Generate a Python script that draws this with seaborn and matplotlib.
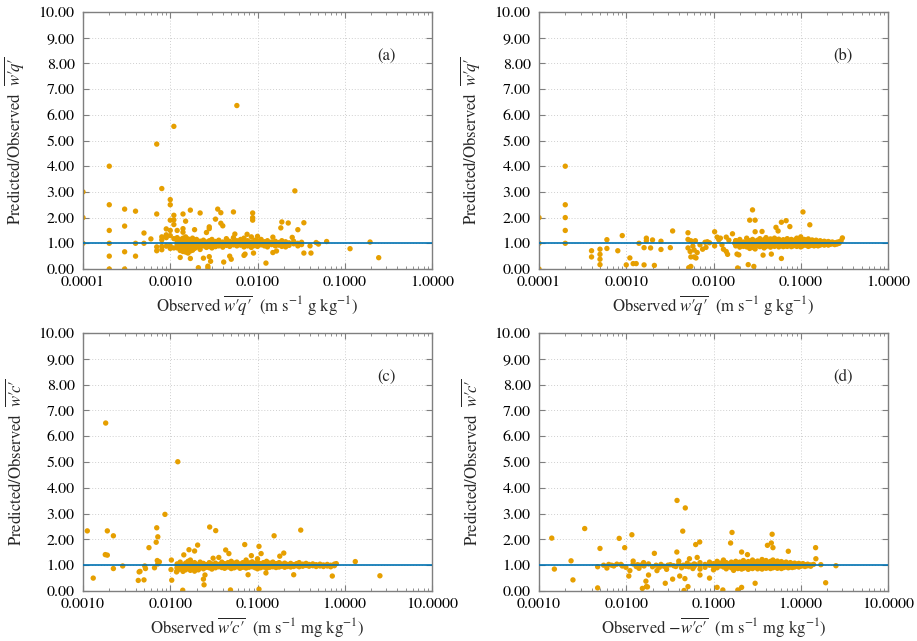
import numpy as np
import pandas as pd
import matplotlib
matplotlib.use("Agg")
import matplotlib.pyplot as plt
import seaborn as sns
from matplotlib.ticker import FuncFormatter, NullFormatter, LogLocator, MultipleLocator

# ---------------- data ----------------
# Panel (a): scattered points (x, ratio)
a_pts = [(0.0001,3.0),(0.0001,2.0),(0.0001,1.0),
 (0.0002,4.0),(0.0002,2.5),(0.0002,1.5),(0.0002,1.0),(0.0002,0.5),(0.0002,0.0),
 (0.0003,2.33),(0.0003,1.67),(0.0003,0.67),(0.0003,0.0),
 (0.0004,2.25),(0.0004,1.0),(0.0004,0.5),(0.0005,1.4),(0.0005,1.0),(0.0006,1.17),
 (0.0007,4.86),(0.0007,2.14),(0.0007,0.86),(0.0007,0.71),
 (0.0008,3.13),(0.0008,1.25),(0.0008,1.13),(0.0008,0.88),(0.0008,0.75),
 (0.0009,1.56),(0.0009,1.33),(0.0009,1.22),(0.0009,0.89),
 (0.001,2.7),(0.001,2.5),(0.001,1.9),(0.001,1.5),(0.001,1.3),(0.001,0.9),(0.001,0.8),
 (0.0011,5.55),(0.0011,2.09),(0.0011,1.91),(0.0011,1.73),(0.0011,1.18),(0.0011,0.82),
 (0.0012,1.5),(0.0013,0.45),(0.0014,2.14),(0.0014,1.57),(0.0014,1.43),(0.0015,1.86),
 (0.0017,2.29),(0.0017,0.41),(0.0019,1.53),(0.0021,0.05),(0.0022,2.18),(0.0024,0.42),
 (0.0026,1.42),(0.0027,0.11),(0.0027,0.04),(0.0028,1.64),(0.0028,1.57),(0.0029,0.3),
 (0.0028,0.48),(0.0033,1.94),(0.0035,2.33),(0.0038,2.19),(0.0038,1.78),(0.004,1.68),
 (0.0041,0.27),(0.0048,0.5),(0.0050,0.38),(0.0053,2.22),(0.0058,6.36),(0.0055,1.36),
 (0.0070,0.53),(0.0072,0.58),(0.0076,1.35),(0.0088,2.18),(0.0088,2.0),(0.0088,1.9),
 (0.0090,0.62),(0.0100,1.27),(0.0125,0.23),(0.015,1.24),(0.015,0.64),(0.0165,0.7),
 (0.0185,1.6),(0.019,1.83),(0.0225,1.79),(0.025,1.23),(0.0268,3.04),(0.029,1.53),
 (0.034,1.8),(0.034,0.62),(0.040,0.9),(0.041,0.62),(0.047,1.03),(0.05,0.97),
 (0.062,1.07),(0.115,0.79),(0.195,1.05),(0.245,0.44)]
# Panel (a): dense band near 1 (x column, ratios in that column)
a_band_x = [0.0012,0.0013,0.0014,0.0015,0.0016,0.0017,0.0018,0.0019,0.0020,0.0022,
 0.0024,0.0026,0.0028,0.0030,0.0033,0.0036,0.0040,0.0044,0.0048,0.0053,0.0058,0.0064,
 0.0070,0.0077,0.0085,0.0093,0.0100,0.011,0.012,0.013,0.0145,0.016,0.0175,0.019,
 0.021,0.023,0.026,0.029,0.032]
a_band_y = [[1.22,1.05,0.95,0.82],[1.15,1.0,0.88,0.72],[1.2,1.08,0.93,0.8,0.68],
 [1.25,1.1,1.0,0.9,0.78,0.66],[1.17,1.03,0.92,0.84,0.74,0.62],[1.12,0.98,0.87,0.76,0.7],
 [1.2,1.06,0.95,0.83,0.73],[1.1,0.99,0.9,0.8],[1.15,1.02,0.92,0.85],[1.08,0.96,0.86,0.76],
 [1.12,1.0,0.9],[1.05,0.94,0.84],[1.1,0.98,0.88],[1.15,1.03,0.93,0.82],[1.07,0.96,0.87],
 [1.12,1.0,0.9],[1.05,0.95,0.85],[1.18,1.02,0.92],[1.08,0.98,0.88],[1.22,1.04,0.94],
 [1.1,1.0,0.9],[1.15,1.03,0.93],[1.2,1.06,0.96,0.86],[1.1,1.0,0.9],[1.25,1.05,0.95,0.84],
 [1.12,1.0,0.91],[1.08,0.97,0.88],[1.15,1.03,0.94],[1.06,0.98,0.9],[1.1,1.0,0.86],
 [1.05,0.95],[1.08,0.99,0.9],[1.03,0.93],[1.1,1.0,0.88],[1.06,0.96,0.86],[1.02,0.92],
 [1.08,0.98],[1.0,0.9],[1.04,0.95]]

# Panel (b)
b_pts = [(0.0001,2.0),(0.0001,1.0),(0.0001,0.0),
 (0.0002,4.0),(0.0002,2.5),(0.0002,2.0),(0.0002,1.5),(0.0002,1.0),
 (0.0004,0.71),(0.0004,0.47),(0.0005,0.77),(0.0005,0.57),(0.0005,0.38),(0.0005,0.17),
 (0.0006,1.14),(0.0006,0.8),(0.0008,0.71),(0.0009,1.3),(0.001,0.16),(0.0011,0.43),
 (0.0012,0.21),(0.0013,0.21),(0.0014,1.0),(0.0016,0.16),(0.0016,0.83),(0.0017,1.2),
 (0.0017,1.1),(0.0019,0.82),(0.002,1.13),(0.0021,0.14),(0.0025,1.08),(0.0025,0.76),
 (0.0032,0.83),(0.0034,1.48),(0.0051,1.41),(0.0051,1.15),(0.0051,0.82),(0.0052,0.05),
 (0.0055,0.1),(0.0054,0.68),(0.0055,0.47),(0.0055,1.1),(0.0058,0.89),(0.006,0.74),
 (0.006,0.47),(0.0063,0.43),(0.0062,1.1),(0.0065,0.64),(0.007,0.94),(0.0075,0.77),
 (0.008,1.04),(0.0082,0.84),(0.0085,1.06),(0.009,1.02),(0.0103,1.45),(0.0103,0.9),
 (0.011,1.24),(0.0115,1.14),(0.012,1.2),(0.0125,0.94),(0.013,0.77),(0.014,0.68),
 (0.0145,0.57),(0.014,1.24),(0.015,1.12),(0.0165,1.37),(0.0175,1.0),(0.0189,0.04),
 (0.0186,0.58),(0.0195,0.55),(0.018,1.1),(0.026,1.9),(0.028,2.3),(0.03,1.9),(0.03,1.45),
 (0.025,0.17),(0.029,0.1),(0.036,1.46),(0.037,0.54),(0.046,0.58),(0.052,1.62),
 (0.055,1.48),(0.06,1.82),(0.068,1.88),(0.075,1.65),(0.06,0.41),(0.106,2.22),
 (0.127,1.72),(0.30,1.21),(0.29,1.1)]
b_band_x = [0.018,0.020,0.022,0.024,0.026,0.028,0.030,0.032,0.034,0.036,0.038,0.040,
 0.042,0.045,0.048,0.050,0.053,0.056,0.060,0.063,0.066,0.070,0.074,0.078,0.082,0.086,
 0.090,0.095,0.100,0.105,0.110,0.116,0.122,0.128,0.135,0.142,0.150,0.158,0.167,0.176,
 0.186,0.196,0.207,0.218,0.23,0.245,0.26,0.275]
b_band_y = [[1.1,1.0,0.9],[1.15,1.02,0.93,0.85],[1.05,0.95,0.88],[1.2,1.08,0.98,0.86],
 [1.1,1.0,0.9,0.8],[1.15,1.04,0.94,0.84],[1.08,0.98,0.9,0.78],[1.12,1.02,0.92],
 [1.18,1.06,0.96,0.87],[1.1,1.0,0.9],[1.14,1.03,0.93,0.82],[1.22,1.08,0.98,0.88],
 [1.12,1.01,0.91],[1.17,1.05,0.95,0.85],[1.1,1.0,0.92],[1.2,1.07,0.97,0.88],
 [1.13,1.02,0.93],[1.16,1.05,0.95,0.86],[1.1,1.0,0.91],[1.14,1.03,0.94,0.87],
 [1.08,0.98,0.9],[1.18,1.06,0.96,0.88],[1.11,1.01,0.92],[1.15,1.04,0.95,0.87],
 [1.09,0.99,0.9],[1.13,1.02,0.93],[1.2,1.07,0.97,0.88],[1.1,1.0,0.92],
 [1.25,1.12,1.03,0.94,0.86],[1.08,0.98,0.9],[1.15,1.04,0.95],[1.1,1.0,0.92],
 [1.17,1.05,0.96,0.88],[1.09,0.99,0.91],[1.13,1.03,0.94],[1.07,0.98,0.9],
 [1.12,1.02,0.93],[1.06,0.97,0.9],[1.1,1.01,0.93],[1.05,0.96],[1.08,1.0,0.93],
 [1.04,0.96],[1.07,0.99,0.93],[1.03,0.96],[1.05,0.98],[1.02,0.95],[1.04,0.97],[1.06,1.0]]

# Panel (c)
c_pts = [(0.00112,2.33),(0.00131,0.5),(0.00182,6.51),(0.0018,1.41),(0.0019,1.39),
 (0.0019,2.33),(0.00223,2.14),(0.00223,0.87),(0.00285,0.97),(0.0043,0.41),(0.0044,0.74),
 (0.0045,0.76),(0.005,0.43),(0.0051,0.97),(0.0052,0.87),(0.0057,1.68),(0.0066,0.9),
 (0.007,2.45),(0.0069,1.89),(0.0072,2.1),(0.0071,1.18),(0.0075,1.13),(0.0072,1.05),
 (0.0087,2.97),(0.0103,1.2),(0.0102,0.83),(0.0104,0.42),(0.0122,5.01),(0.0118,0.74),
 (0.012,0.88),(0.0139,0.03),(0.0164,1.6),(0.0143,1.4),(0.019,1.55),(0.0206,1.78),
 (0.0244,0.24),(0.024,0.46),(0.025,0.62),(0.0283,2.48),(0.0332,2.34),(0.031,1.27),
 (0.036,1.3),(0.0432,1.59),(0.047,1.45),(0.049,0.04),(0.0714,1.8),(0.085,1.37),
 (0.078,0.63),(0.104,1.73),(0.11,1.45),(0.104,0.07),(0.125,0.7),(0.155,2.14),
 (0.18,1.35),(0.2,1.47),(0.26,0.63),(0.313,2.36),(0.72,0.58),(0.8,1.06),(1.32,1.14),
 (2.53,0.59)]
c_band_x = [0.012,0.013,0.014,0.015,0.016,0.017,0.018,0.019,0.021,0.022,0.024,0.026,
 0.028,0.030,0.033,0.036,0.039,0.042,0.046,0.05,0.054,0.058,0.063,0.068,0.074,0.08,
 0.087,0.094,0.1,0.108,0.117,0.127,0.138,0.15,0.163,0.177,0.19,0.205,0.22,0.24,0.26,
 0.28,0.30,0.33,0.36,0.39,0.43,0.47,0.52,0.57,0.63,0.69,0.76]
c_band_y = [[1.05,0.92,0.78],[1.12,0.98,0.85],[1.0,0.88,0.76],[1.08,0.95,0.82],
 [1.15,1.02,0.9],[1.2,1.0,0.8],[1.06,0.93,0.85],[1.1,0.98,0.88,0.77],[1.03,0.92,0.82],
 [1.12,1.0,0.9],[1.07,0.96,0.86],[1.02,0.92],[1.1,1.0,0.9],[1.05,0.95,0.85],
 [1.08,0.98,0.9],[1.03,0.94],[1.12,1.0,0.91],[1.06,0.97,0.88],[1.1,1.0,0.93],
 [1.15,1.04,0.95,0.87],[1.08,0.99,0.9],[1.12,1.02,0.94],[1.05,0.97,0.88],[1.1,1.0,0.92],
 [1.2,1.06,0.97,0.89],[1.09,1.0,0.92],[1.13,1.03,0.94],[1.07,0.98,0.9],
 [1.25,1.12,1.02,0.93,0.86],[1.06,0.97,0.9],[1.1,1.01,0.93],[1.15,1.04,0.95,0.88],
 [1.08,0.99,0.92],[1.12,1.02,0.94],[1.06,0.98,0.91],[1.1,1.0,0.93],[1.04,0.96],
 [1.08,0.99,0.92],[1.03,0.95],[1.07,0.98,0.93],[1.02,0.95],[1.06,0.98],[1.1,1.0,0.94],
 [1.04,0.96],[1.07,0.99],[1.03,0.96],[1.05,0.98],[1.02,0.95],[1.04,0.97],[1.01,0.95],
 [1.03,0.97],[1.0,0.94],[1.04,0.98]]

# Panel (d)
d_pts = [(0.0014,2.05),(0.0015,0.85),(0.00233,1.17),(0.00245,0.43),(0.00334,2.42),
 (0.0047,0.94),(0.0047,0.12),(0.0050,1.65),(0.006,0.89),(0.0063,1.03),(0.0072,0.97),
 (0.0083,2.04),(0.0087,1.03),(0.0096,1.68),(0.0099,0.92),(0.0107,0.58),(0.011,0.79),
 (0.0116,2.18),(0.012,1.16),(0.0153,0.1),(0.0158,1.1),(0.0168,0.38),(0.017,0.17),
 (0.0175,0.16),(0.018,0.62),(0.021,1.46),(0.0225,0.79),(0.024,0.92),(0.028,0.3),
 (0.03,1.0),(0.034,0.46),(0.035,0.98),(0.0382,3.51),(0.038,1.51),(0.04,1.16),
 (0.041,0.58),(0.0444,2.32),(0.046,0.02),(0.0475,3.22),(0.047,0.48),(0.051,0.17),
 (0.053,1.25),(0.0625,1.8),(0.065,1.3),(0.0695,1.9),(0.07,0.62),(0.09,0.5),(0.11,0.14),
 (0.128,0.04),(0.157,1.86),(0.163,2.27),(0.19,0.04),(0.21,0.14),(0.21,1.51),
 (0.245,1.41),(0.3,0.3),(0.415,1.77),(0.46,1.86),(0.47,2.2),(0.48,1.68),(0.72,1.54),
 (1.48,1.68),(1.49,1.25),(1.7,1.02),(1.93,0.32),(2.53,0.98),
 (0.0055,1.0),(0.0068,1.0),(0.0078,1.04),(0.009,0.97),(0.012,1.05),(0.013,0.95),
 (0.0135,1.02),(0.014,0.88),(0.0145,1.0),(0.016,0.97),(0.018,1.05),(0.02,0.94),
 (0.022,1.0),(0.025,1.03),(0.027,0.96),(0.029,0.84),(0.032,1.02),(0.037,0.95),
 (0.04,1.05),(0.043,0.9),(0.045,1.0),(0.048,0.96),(0.05,1.08),(0.052,0.94),(0.055,1.0),
 (0.058,0.87),(0.062,1.02)]
d_band_x = [0.06,0.07,0.08,0.09,0.10,0.11,0.12,0.13,0.14,0.15,0.16,0.17,0.18,0.19,0.2,
 0.21,0.22,0.235,0.25,0.265,0.28,0.3,0.32,0.34,0.36,0.38,0.4,0.42,0.45,0.48,0.51,0.54,
 0.57,0.6,0.64,0.68,0.72,0.76,0.8,0.85,0.9,0.95,1.0,1.06,1.12,1.2,1.3,1.4]
d_band_y = [[1.05,0.95],[1.1,0.98,0.85],[1.03,0.92],[1.12,1.0],[1.06,0.95,0.82],
 [1.15,1.02,0.9],[1.08,0.97],[1.2,1.04,0.93],[1.1,0.99,0.86],[1.05,0.95],[1.12,1.0,0.9],
 [1.07,0.96,0.8],[1.15,1.03,0.92],[1.08,0.98,0.87],[1.12,1.01,0.9],[1.05,0.95,0.85],
 [1.18,1.06,0.97,0.88],[1.1,1.0,0.91],[1.14,1.03,0.93,0.84],[1.08,0.98,0.9],
 [1.2,1.06,0.96,0.87],[1.12,1.01,0.92],[1.16,1.05,0.95,0.86],[1.09,0.99,0.9],
 [1.22,1.1,1.02,0.93,0.85],[1.13,1.03,0.94],[1.18,1.07,0.97,0.88],[1.1,1.0,0.91],
 [1.15,1.04,0.95,0.87],[1.2,1.08,0.98,0.9],[1.12,1.02,0.93],[1.16,1.05,0.96,0.88],
 [1.1,1.0,0.92],[1.14,1.03,0.95,0.87],[1.08,0.99,0.91],[1.12,1.02,0.94],[1.06,0.97,0.9],
 [1.1,1.01,0.93],[1.05,0.97,0.91],[1.08,1.0,0.93],[1.04,0.96],[1.07,0.99,0.93],
 [1.03,0.96],[1.06,0.98],[1.02,0.95],[1.04,0.98],[1.01,0.96],[1.03]]

panel_tags = ["(a)", "(b)", "(c)", "(d)"]
xlims = [(1e-4, 1.0), (1e-4, 1.0), (1e-3, 10.0), (1e-3, 10.0)]
WQ = "$\\overline{w\u2032\\!q\u2032}$"
WC = "$\\overline{w\u2032\\!c\u2032}$"
MWC = "$-\\overline{w\u2032\\!c\u2032}$"
ylabels = ["Predicted/Observed  " + WQ, "Predicted/Observed  " + WQ,
           "Predicted/Observed  " + WC, "Predicted/Observed  " + WC]
xlabels = ["Observed " + WQ + "  (m s$^{-1}$ g kg$^{-1}$)",
           "Observed " + WQ + "  (m s$^{-1}$ g kg$^{-1}$)",
           "Observed " + WC + "  (m s$^{-1}$ mg kg$^{-1}$)",
           "Observed " + MWC + "  (m s$^{-1}$ mg kg$^{-1}$)"]
reference_ratio = 1.0


def build(pts, band_x, band_y):
    xs = [p[0] for p in pts]
    ys = [p[1] for p in pts]
    for bx, col in zip(band_x, band_y):
        for v in col:
            xs.append(bx)
            ys.append(v)
    return pd.DataFrame({"obs": xs, "ratio": ys})


frames = [build(a_pts, a_band_x, a_band_y), build(b_pts, b_band_x, b_band_y),
          build(c_pts, c_band_x, c_band_y), build(d_pts, d_band_x, d_band_y)]

# ---------------- styling ----------------
sns.set_theme(style="ticks")
plt.rcParams["font.family"] = ["STIXGeneral", "DejaVu Serif"]
plt.rcParams["mathtext.fontset"] = "stix"

ORANGE = "#E69F00"
BLUE = "#0072B2"
SPINE = "#7f7f7f"

fig = plt.figure(figsize=(9.17, 6.41), dpi=100)
W, H = 917, 641
rects = [(83, 12, 432, 269), (539, 12, 888, 269), (83, 333, 432, 591), (539, 333, 888, 591)]

for i, (l, t, r, b) in enumerate(rects):
    ax = fig.add_axes([l / W, 1 - b / H, (r - l) / W, (b - t) / H])
    df = frames[i]
    sns.scatterplot(data=df, x="obs", y="ratio", ax=ax, color=ORANGE, s=15,
                    edgecolor="none", linewidth=0, zorder=2)
    ax.axhline(reference_ratio, color=BLUE, lw=1.2, zorder=3)
    ax.set_xscale("log")
    ax.set_xlim(*xlims[i])
    ax.set_ylim(0, 10)
    ax.yaxis.set_major_locator(MultipleLocator(1))
    ax.yaxis.set_major_formatter(FuncFormatter(lambda v, p: f"{v:.2f}"))
    ax.xaxis.set_major_locator(LogLocator(base=10, numticks=10))
    ax.xaxis.set_minor_locator(LogLocator(base=10, subs=np.arange(2, 10), numticks=100))
    ax.xaxis.set_major_formatter(FuncFormatter(lambda v, p: f"{v:.4f}"))
    ax.xaxis.set_minor_formatter(NullFormatter())
    ax.grid(True, which="major", ls=(0, (1, 2)), color="#cfcfcf", lw=0.7, zorder=0)
    for s in ax.spines.values():
        s.set_color(SPINE)
        s.set_linewidth(1.0)
    ax.tick_params(which="both", direction="in", top=True, right=True, color=SPINE,
                   labelsize=11.5, labelcolor="black")
    ax.tick_params(axis="y", which="major", pad=6)
    ax.tick_params(axis="x", which="major", pad=5)
    ax.tick_params(which="major", length=4, width=0.8)
    ax.tick_params(which="minor", length=2.5, width=0.6)
    ax.set_xlabel(xlabels[i], fontsize=12, labelpad=3)
    ax.set_ylabel(ylabels[i], fontsize=12, labelpad=9)
    ax.text(0.87, 0.83, panel_tags[i], transform=ax.transAxes, fontsize=12,
            ha="center", va="center")

fig.savefig("out.png", dpi=100)
